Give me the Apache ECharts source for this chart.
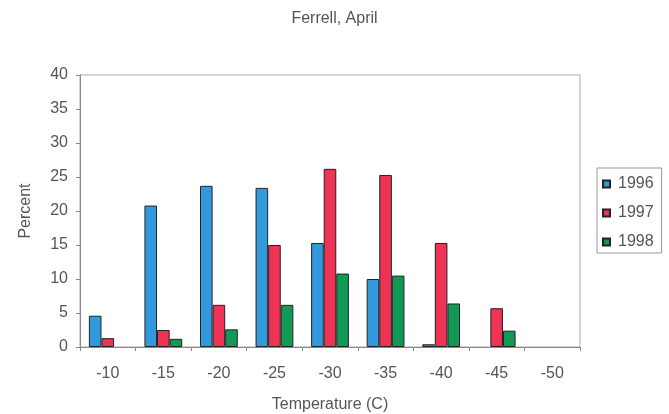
<!DOCTYPE html>
<html>
<head>
<meta charset="utf-8">
<script src="https://cdn.jsdelivr.net/npm/echarts@6/dist/echarts.min.js"></script>
<style>
  html, body { margin: 0; padding: 0; background: #fff; }
  #chart { width: 669px; height: 414px; }
</style>
</head>
<body>
<div id="chart"></div>
<script>
// Temperature bins (C) and percent of readings per year
const categories = ['-10', '-15', '-20', '-25', '-30', '-35', '-40', '-45', '-50'];
const seriesNames = ['1996', '1997', '1998'];
const values1996 = [4.6, 20.8, 23.7, 23.4, 15.3, 10.0, 0.4, 0, 0];
const values1997 = [1.3, 2.5, 6.2, 15.0, 26.2, 25.3, 15.3, 5.7, 0];
const values1998 = [0, 1.2, 2.6, 6.2, 10.8, 10.5, 6.4, 2.4, 0];
const colors = ['#3399dd', '#ee3355', '#119955'];

const textColor = '#555';
const fontFamily = '"Liberation Sans", Arial, sans-serif';
const fontSize = 16;

const chart = echarts.init(document.getElementById('chart'), null, { renderer: 'canvas' });

// Empty bins get no outline so nothing is drawn on the baseline
const toItems = (data) => data.map(v => v === 0
  ? { value: v, itemStyle: { borderWidth: 0 } }
  : { value: v });

const makeSeries = (name, data, color) => ({
  name: name,
  type: 'bar',
  data: toItems(data),
  barGap: '0%',
  barCategoryGap: '32%',
  itemStyle: { color: color, borderColor: '#222', borderWidth: 1 }
});

chart.setOption({
  animation: false,
  textStyle: { fontFamily: fontFamily, color: textColor },
  title: {
    text: 'Ferrell, April',
    left: 'center',
    top: 6,
    textStyle: { fontSize: fontSize, fontWeight: 'normal', color: textColor, fontFamily: fontFamily }
  },
  legend: {
    data: seriesNames,
    orient: 'vertical',
    left: 597,
    top: 168,
    padding: [8, 8, 3, 5],
    itemGap: 13,
    itemWidth: 7,
    itemHeight: 7,
    icon: 'rect',
    borderColor: '#999',
    borderWidth: 1,
    textStyle: { fontSize: fontSize, color: textColor, fontFamily: fontFamily, lineHeight: 15, padding: [0, 0, 0, 3] }
  },
  grid: {
    left: 80,
    right: 89,
    top: 75,
    bottom: 67,
    outerBoundsMode: 'none',
    containLabel: false,
    show: true,
    borderColor: '#aaa',
    borderWidth: 1,
    backgroundColor: '#fff'
  },
  xAxis: {
    type: 'category',
    data: categories,
    boundaryGap: true,
    name: 'Temperature (C)',
    nameLocation: 'middle',
    nameGap: 50,
    nameTextStyle: { fontSize: fontSize, color: textColor },
    axisLine: { lineStyle: { color: '#888' } },
    axisTick: { show: true, length: 4, lineStyle: { color: '#888' } },
    axisLabel: { margin: 19, fontSize: fontSize, color: textColor }
  },
  yAxis: {
    type: 'value',
    min: 0,
    max: 40,
    interval: 5,
    name: 'Percent',
    nameLocation: 'middle',
    nameGap: 46,
    nameTextStyle: { fontSize: fontSize, color: textColor },
    axisLine: { show: true, lineStyle: { color: '#888' } },
    axisTick: { show: true, length: 4, lineStyle: { color: '#888' } },
    axisLabel: { margin: 12, fontSize: fontSize, color: textColor },
    splitLine: { show: false }
  },
  series: [
    makeSeries(seriesNames[0], values1996, colors[0]),
    makeSeries(seriesNames[1], values1997, colors[1]),
    makeSeries(seriesNames[2], values1998, colors[2])
  ]
});
</script>
</body>
</html>
